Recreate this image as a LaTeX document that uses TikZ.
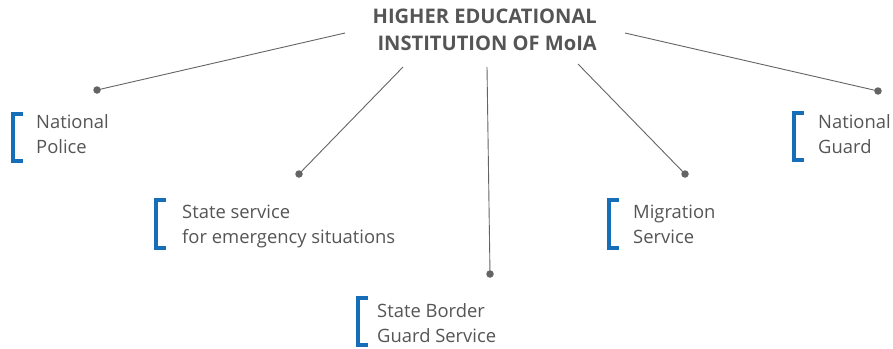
\documentclass[tikz,border=0pt]{standalone}
\usepackage{fontspec}
\setmainfont{Open Sans}
\usetikzlibrary{positioning}
\definecolor{inkgray}{RGB}{85,85,85}
\definecolor{linegray}{RGB}{100,100,100}
\definecolor{brkblue}{RGB}{22,110,185}
\tikzset{
  head/.style={font=\bfseries\fontsize{20.1}{27}\selectfont, text=inkgray, align=right, inner sep=0},
  lbl/.style={font=\fontsize{18.4}{25}\selectfont, text=inkgray, align=left, inner sep=0, anchor=base west},
  dot/.style={circle, fill=linegray, inner sep=0, minimum size=7.5pt},
  link/.style={linegray, line width=0.9pt},
  brk/.style={brkblue, line width=4pt}
}
\newcommand{\bracket}[3]{\draw[brk] (#1+10,#2) -- (#1,#2) -- (#1,#3) -- (#1+10,#3);}

\begin{document}
\begin{tikzpicture}[x=1pt, y=-1pt]
\useasboundingbox (0,0) rectangle (893,348);

% title
\node[head, anchor=base east] (moia) at (597,50) {HIGHER EDUCATIONAL\\INSTITUTION OF MoIA};

% line ends at the title
\coordinate (m1) at (345,33);
\coordinate (m2) at (403,67);
\coordinate (m3) at (487,67);
\coordinate (m4) at (578,64);
\coordinate (m5) at (625,33);

% dots
\node[dot] (d1) at (97,90) {};
\node[dot] (d2) at (299,174) {};
\node[dot] (d3) at (490,274) {};
\node[dot] (d4) at (685,174) {};
\node[dot] (d5) at (878,91) {};

% links
\foreach \a/\b in {m1/d1, m2/d2, m3/d3, m4/d4, m5/d5}
  \draw[link] (\a) -- (\b.center);

% labels (placed on the baseline of the lower line)
\node[lbl] (police) at (36,153) {National\\Police};
\node[lbl] (emerg) at (182,243) {State service\\for emergency situations};
\node[lbl] (border) at (377,342) {State Border\\Guard Service};
\node[lbl] (migr) at (633,243) {Migration\\Service};
\node[lbl] (guard) at (818,153) {National\\Guard};

% brackets
\bracket{13}{114}{161}
\bracket{156}{200}{248}
\bracket{358}{298}{345}
\bracket{609}{200}{248}
\bracket{794}{113}{160}
\end{tikzpicture}
\end{document}
